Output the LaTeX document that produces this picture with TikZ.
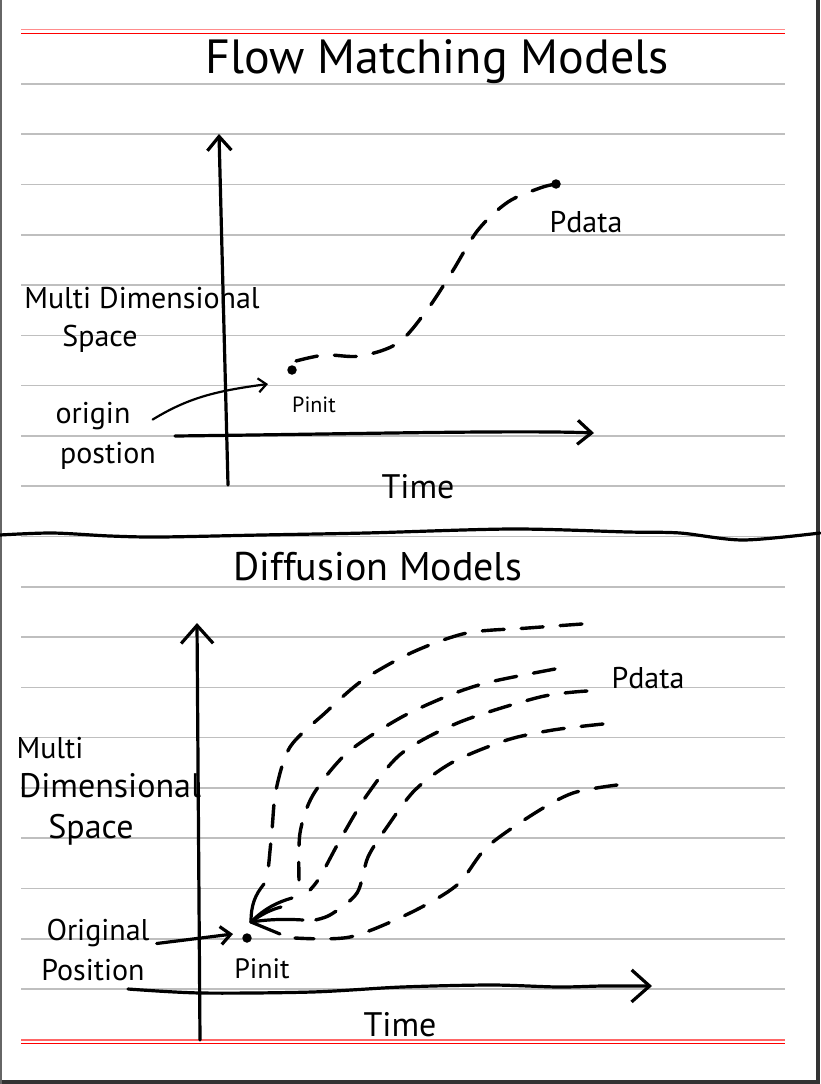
\documentclass[tikz,border=0pt]{standalone}
\usepackage{fontspec}
\setmainfont{PT Sans}
\usetikzlibrary{arrows.meta, positioning}

\begin{document}
\begin{tikzpicture}[
  x=1pt, y=-1pt,
  tratto/.style={draw=black, line width=3.2pt, line cap=round, line join=round},
  sottile/.style={tratto, line width=2.2pt},
  tratteggio/.style={tratto, line width=3.4pt, dash pattern=on 22pt off 17pt},
  punta/.style={-{Straight Barb[length=14pt, width=24pt]}},
  puntagrande/.style={-{Straight Barb[length=18pt, width=32pt]}},
  rigo/.style={draw=black!25, line width=1.6pt},
  margine/.style={draw=red, line width=1.5pt},
  etichetta/.style={inner sep=0pt, anchor=base, font=\fontsize{30}{32}\selectfont},
  punto/.style={circle, fill=black, inner sep=0pt, minimum size=9.5pt}
]

% Pagina fissata in pixel: 820 x 1084, asse y verso il basso.
\def\rigosx{21}
\def\rigodx{785}
\useasboundingbox (0,0) rectangle (820,1084);

% ---- carta a righe --------------------------------------------------
\fill[white] (0,0) rectangle (820,1084);
\foreach \k in {0,...,18}
  \draw[rigo] (\rigosx,{84+50.28*\k}) -- (\rigodx,{84+50.28*\k});
\draw[margine, draw=red!45] (\rigosx,29.5) -- (\rigodx,29.5);
\draw[margine]              (\rigosx,33.5) -- (\rigodx,33.5);
\draw[margine, draw=red!60] (\rigosx,1039.8) -- (\rigodx,1039.8);
\draw[margine]              (\rigosx,1043.3) -- (\rigodx,1043.3);

% ---- cornice della finestra -----------------------------------------
\fill[black!80] (816,0) rectangle (820,1084);
\fill[black!80] (0,1080) rectangle (820,1084);
\fill[black!60] (0,0) rectangle (1.5,1084);

% ---- linea di separazione -------------------------------------------
\draw[tratto] plot[smooth] coordinates {(0,535) (52,533) (110,536) (160,537)
  (261,535) (366,533) (512,529) (628,532) (680,533) (743,540) (820,533)};

% ---- titoli ---------------------------------------------------------
\node[etichetta, font=\fontsize{48}{50}\selectfont] (titolo1) at (437,73) {Flow Matching Models};
\node[etichetta, font=\fontsize{40}{42}\selectfont] (titolo2) at (378,580) {Diffusion Models};

% ==== flow matching ==================================================
\coordinate (assey1su)  at (219,134);
\coordinate (assey1giu) at (228,485);
\coordinate (assex1sx)  at (175,436);
\coordinate (assex1dx)  at (594,433);
\draw[tratto, punta] (assey1giu) -- (assey1su);
\draw[tratto, punta] (assex1sx) .. controls (350,434) and (520,430) .. (assex1dx);

\node[etichetta] (spazio1) at (142,308) {Multi Dimensional};
\node[etichetta] (spazio1b) at (100,346) {Space};
\node[etichetta] (origine1) at (93,423) {origin};
\node[etichetta] (origine1b) at (108,463) {postion};
\node[etichetta, font=\fontsize{34}{36}\selectfont] (tempo1) at (418,498) {Time};

\node[punto] (pinit1) at (292,370) {};
\node[punto] (pdata1) at (556,184) {};
\node[etichetta, font=\fontsize{22}{24}\selectfont] (lpinit1) at (314,412) {Pinit};
\node[etichetta] (lpdata1) at (586,232) {Pdata};

% traiettoria unica da Pinit a Pdata
\draw[tratteggio] plot[smooth, tension=0.55] coordinates {([xshift=4pt, yshift=9pt]pinit1)
  (325,355) (360,356) (398,343) (427,310) (452,272) (478,230) (508,202) (540,188) (pdata1)};

% freccia: origine -> Pinit
\coordinate (verso1) at (268,384);
\draw[sottile, -{Straight Barb[length=8pt, width=14pt]}]
  ([xshift=22pt, yshift=-4pt]origine1.east) .. controls (188,398) and (215,391) .. (verso1);

% ==== diffusione =====================================================
\coordinate (assey2su)  at (197,623);
\coordinate (assey2giu) at (200,1040);
\coordinate (assex2sx)  at (128,989);
\coordinate (assex2dx)  at (652,986);
\draw[tratto, puntagrande] (assey2giu) -- (assey2su);
\draw[tratto, puntagrande] plot[smooth] coordinates {(assex2sx) (201,993) (312,992)
  (402,987) (491,985) (558,987) (603,986) (assex2dx)};

\node[etichetta] (spazio2)  at (50,758) {Multi};
\node[etichetta, font=\fontsize{34}{36}\selectfont] (spazio2b) at (110,797) {Dimensional};
\node[etichetta, font=\fontsize{34}{36}\selectfont] (spazio2c) at (91,838) {Space};
\node[etichetta] (origine2)  at (98,940) {Original};
\node[etichetta] (origine2b) at (93,980) {Position};
\node[etichetta, font=\fontsize{34}{36}\selectfont] (tempo2) at (400,1036) {Time};

\node[punto] (pinit2) at (247,938) {};
\node[etichetta, font=\fontsize{28}{30}\selectfont] (lpinit2) at (262,978) {Pinit};
\node[etichetta] (lpdata2) at (648,688) {Pdata};
\coordinate (fuoco) at (251,922);

% freccia: originale -> Pinit
\coordinate (verso2) at (233,934);
\draw[tratto, -{Straight Barb[length=10pt, width=18pt]}]
  ([xshift=7pt, yshift=-11pt]origine2.east) -- (verso2);

% cinque traiettorie, da Pdata verso il punto di partenza
\draw[tratteggio] plot[smooth] coordinates {(582,624) (528,628) (467,633) (413,652)
  (363,680) (325,713) (290,747) (276,790) (272,830) (268,872)};
\draw[tratteggio] plot[smooth] coordinates {(555,669) (490,682) (450,695) (400,718)
  (347,753) (313,795) (300,833) (299,880)};
\draw[tratteggio] plot[smooth] coordinates {(587,691) (540,697) (460,722) (402,753)
  (367,795) (340,840) (320,877) (310,890)};
\draw[tratteggio] plot[smooth] coordinates {(603,724) (553,730) (507,740) (453,762)
  (415,790) (387,827) (368,857) (357,893) (330,915) (310,921)};
\draw[tratteggio] plot[smooth] coordinates {(617,785) (573,793) (535,813) (487,847)
  (457,885) (410,913) (350,937) (295,938)};

% tratti pieni che convergono sul punto
\draw[tratto] (fuoco) .. controls (251,905) and (255,895) .. (264,884);
\draw[tratto] (fuoco) .. controls (265,908) and (278,902) .. (292,898);
\draw[tratto] (fuoco) .. controls (262,914) and (270,910) .. (281,907);
\draw[tratto] (fuoco) .. controls (270,919) and (288,919) .. (303,920);
\draw[tratto] (fuoco) -- (280,934);

\end{tikzpicture}
\end{document}
